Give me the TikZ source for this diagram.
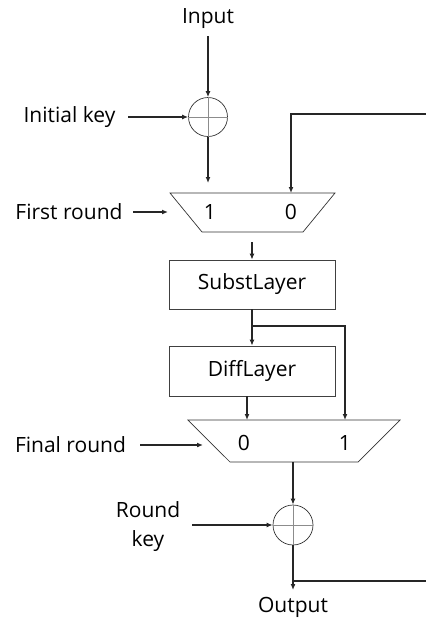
\documentclass[tikz,border=0pt]{standalone}
\usepackage{fontspec}
\setmainfont{Open Sans}
\usetikzlibrary{arrows.meta}
\begin{document}
\begin{tikzpicture}[x=1pt,y=-1pt,
  lbl/.style={font=\fontsize{21}{29}\selectfont, inner sep=0pt, align=center},
  num/.style={font=\fontsize{21}{25}\selectfont, inner sep=0pt},
  wire/.style={line width=1.4pt, draw=black!85},
  arr/.style={wire, -{Latex[length=6pt,width=5pt]}},
  blk/.style={draw=black!75, line width=0.7pt, minimum width=166pt, minimum height=49pt, inner sep=0pt, font=\fontsize{21}{25}\selectfont},
  xorc/.style={circle, draw=black!80, line width=0.7pt, minimum size=39pt, inner sep=0pt},
  cross/.style={draw=black!45, line width=0.5pt},
  muxs/.style={draw=black!80, line width=0.7pt}]
\useasboundingbox (0,0) rectangle (426,619);

% input and first XOR
\node[lbl] (in) at (208,19) {Input};
\node[xorc] (x1) at (208,117) {};
\draw[cross] (x1.north) -- (x1.south) (x1.west) -- (x1.east);
\node[lbl] (ik) at (69.5,117) {Initial key};
\coordinate (inA) at (208,36);
\coordinate (ikA) at (128,117);
\draw[arr] (inA) -- (x1.north);
\draw[arr] (ikA) -- (x1.west);

% first mux
\draw[muxs] (170,193) -- (335,193) -- (303,232) -- (202,232) -- cycle;
\node[num] (m1a) at (210,212) {1};
\node[num] (m1b) at (291,212) {0};
\coordinate (m1in1) at (208,183);
\coordinate (m1in0) at (291,193);
\coordinate (fb1) at (426,114);
\draw[arr] (x1.south) -- (m1in1);
\draw[arr] (fb1) -| (m1in0);
\node[lbl] (fr) at (69,212) {First round};
\coordinate (frA) at (133,212);
\coordinate (frB) at (168,212);
\draw[arr] (frA) -- (frB);

% layers
\node[blk] (sl) at (252,284.5) {SubstLayer};
\node[blk, minimum height=50pt] (dl) at (252,371) {DiffLayer};
\coordinate (m1out) at (252,242);
\draw[arr] (m1out) -- (sl.north);
\draw[arr] (sl.south) -- (dl.north);
\coordinate (br1) at (252,326);
\coordinate (m2in1) at (345,420);
\draw[arr] (br1) -| (m2in1);

% second mux
\draw[muxs] (188,420) -- (400,420) -- (358,462) -- (230,462) -- cycle;
\node[num] (m2a) at (244,443) {0};
\node[num] (m2b) at (345,443) {1};
\coordinate (dlo) at (247,396);
\coordinate (m2in0) at (247,420);
\draw[arr] (dlo) -- (m2in0);
\node[lbl] (fin) at (70.5,445) {Final round};
\coordinate (finA) at (140,445);
\coordinate (finB) at (203,445);
\draw[arr] (finA) -- (finB);

% second XOR
\node[xorc, minimum size=40pt] (x2) at (293,525) {};
\draw[cross] (x2.north) -- (x2.south) (x2.west) -- (x2.east);
\coordinate (m2out) at (293,462);
\draw[arr] (m2out) -- (x2.north);
\node[lbl] (rk) at (148,527) {Round\\key};
\coordinate (rkA) at (192,525);
\draw[arr] (rkA) -- (x2.west);
\node[lbl] (out) at (293,607) {Output};
\coordinate (outA) at (293,590);
\draw[arr] (x2.south) -- (outA);
\coordinate (br2) at (293,581);
\coordinate (fb2) at (426,581);
\draw[wire] (br2) -- (fb2);
\end{tikzpicture}
\end{document}
